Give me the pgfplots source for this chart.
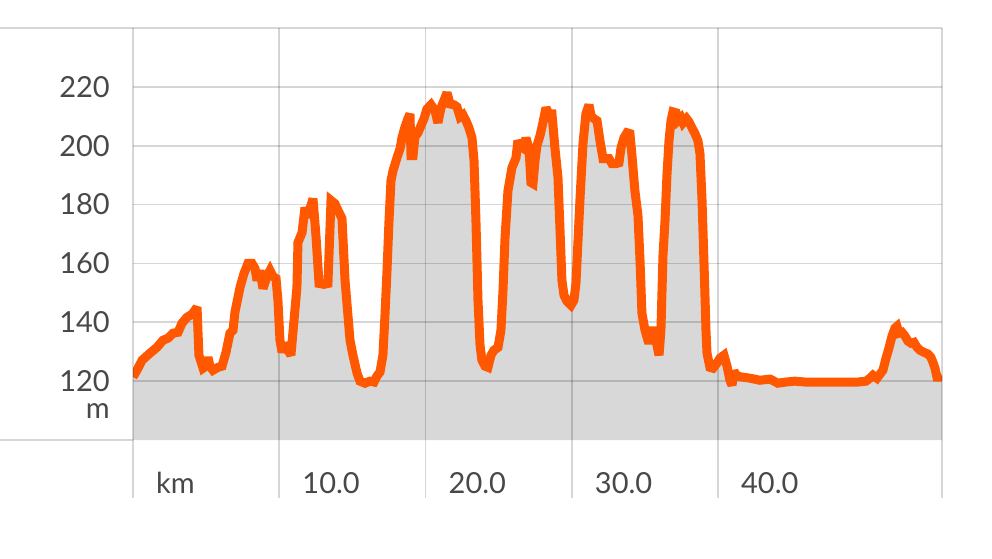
\documentclass[border=0pt]{standalone}
\usepackage{fontspec}
\setmainfont{Lato}
\usepackage{pgfplots}
\usepackage{pgfplotstable}
\pgfplotsset{compat=1.18}
\definecolor{lineorange}{RGB}{255,88,0}
\definecolor{areafill}{RGB}{216,216,216}
\definecolor{labelgray}{RGB}{72,72,72}
\begin{document}
\pgfplotstableread{
dist elev
0.00 121.4
0.27 123.7
0.62 127.1
1.16 129.5
1.64 131.5
2.05 133.9
2.39 134.6
2.74 136.3
3.08 136.6
3.35 139.7
3.69 141.7
4.03 142.7
4.38 145.1
4.44 137.3
4.51 128.8
4.79 124.4
4.99 125.1
5.13 128.1
5.26 125.1
5.47 123.7
5.81 124.7
6.09 125.1
6.36 129.8
6.63 136.3
6.84 137.3
6.97 143.4
7.32 151.9
7.59 156.6
7.86 160.0
8.14 160.0
8.34 158.3
8.48 154.2
8.68 157.6
8.89 151.5
9.16 155.6
9.37 157.6
9.57 155.6
9.78 154.9
9.91 147.5
10.05 133.9
10.19 129.8
10.39 132.9
10.60 130.5
10.80 128.8
11.01 140.7
11.21 151.9
11.28 167.1
11.56 170.5
11.76 179.0
11.97 175.6
12.10 178.6
12.31 182.0
12.51 169.5
12.72 153.2
13.06 152.9
13.33 153.2
13.54 181.4
13.81 180.3
14.02 178.0
14.29 175.3
14.50 154.2
14.63 146.4
14.84 133.9
15.04 128.8
15.32 122.7
15.52 120.0
15.86 119.3
16.21 120.0
16.48 119.7
16.68 121.7
16.89 123.1
17.09 128.8
17.23 142.4
17.37 157.6
17.50 173.9
17.64 188.1
17.78 191.5
18.05 195.9
18.26 199.0
18.39 202.7
18.60 206.4
18.80 209.2
18.94 210.8
19.01 196.6
19.15 196.6
19.28 203.1
19.49 204.4
19.69 206.8
19.90 209.2
20.10 212.5
20.38 213.9
20.65 211.9
20.85 207.8
21.06 212.9
21.26 215.3
21.47 218.0
21.68 214.2
21.95 213.9
22.15 213.2
22.36 209.8
22.56 210.5
22.77 208.5
22.97 206.1
23.18 202.7
23.32 194.9
23.45 174.6
23.59 147.5
23.73 132.2
23.86 127.1
24.07 125.1
24.27 124.7
24.48 128.8
24.68 130.5
24.96 131.5
25.16 137.3
25.30 150.8
25.44 168.8
25.64 184.7
25.91 192.5
26.19 195.9
26.32 201.7
26.53 199.7
26.74 199.0
26.87 202.7
27.08 199.0
27.21 187.5
27.35 187.1
27.49 194.9
27.62 200.0
27.83 203.4
28.03 207.8
28.24 212.9
28.44 210.8
28.65 210.8
28.85 199.3
29.06 189.2
29.20 171.2
29.33 154.2
29.47 149.2
29.68 147.1
29.95 145.8
30.15 147.5
30.29 153.2
30.43 167.8
30.56 181.4
30.77 200.7
30.97 210.8
31.18 213.9
31.32 210.2
31.52 209.2
31.73 208.5
31.93 201.7
32.14 195.6
32.34 195.6
32.55 195.6
32.75 193.9
33.03 193.9
33.23 194.2
33.37 199.3
33.57 202.7
33.78 204.4
33.98 204.1
34.12 196.6
34.32 184.7
34.53 176.3
34.67 161.0
34.80 143.1
35.01 137.3
35.21 133.9
35.35 133.9
35.56 138.3
35.76 133.9
35.97 128.8
36.10 137.3
36.24 162.7
36.38 174.6
36.51 189.8
36.65 201.7
36.79 208.5
36.92 211.5
37.13 211.2
37.26 208.5
37.47 209.5
37.61 207.8
37.85 209.2
38.02 208.1
38.22 206.1
38.43 204.1
38.63 201.7
38.77 197.3
38.91 181.4
39.04 161.0
39.18 137.3
39.25 129.5
39.45 124.7
39.66 124.4
39.93 126.1
40.14 127.8
40.41 128.8
40.62 125.1
40.82 120.3
40.96 118.6
41.09 123.4
41.30 121.7
41.64 121.4
42.19 121.0
42.87 120.3
43.56 120.7
44.10 119.3
44.65 119.7
45.26 120.0
45.95 119.7
46.63 119.7
47.66 119.7
48.68 119.7
49.57 119.7
50.12 120.0
50.39 121.0
50.60 122.0
50.87 121.0
51.08 122.4
51.28 123.7
51.49 127.8
51.69 131.2
51.90 135.3
52.10 138.0
52.24 138.6
52.38 136.3
52.58 136.6
52.79 135.3
52.99 133.6
53.20 132.9
53.40 133.2
53.61 131.5
53.81 130.5
54.09 129.8
54.36 129.2
54.56 128.1
54.70 126.4
54.84 124.4
54.97 121.4
55.18 121.4
55.32 121.7
}\elevtable
\begin{tikzpicture}
\useasboundingbox (0,0) rectangle (992pt,558pt);
\begin{axis}[
  at={(133pt,118pt)}, anchor=south west,
  scale only axis, width=809pt, height=412pt,
  xmin=0, xmax=55.32, ymin=100, ymax=240,
  axis line style={draw=none},
  major tick length=0pt,
  xtick={0,10,20,30,40},
  xticklabels={km,10.0,20.0,30.0,40.0},
  ytick={120,140,160,180,200,220},
  /pgf/number format/assume math mode=true,
  ticklabel style={font=\fontsize{29}{29}\selectfont, text=labelgray, inner sep=0pt},
  xticklabel style={anchor=base west, xshift=23pt, yshift=-53pt},
  yticklabel style={anchor=east, xshift=-23pt},
]
\addplot[draw=none, fill=areafill] table[x index=0, y index=1] {\elevtable} \closedcycle;
\pgfplotsinvokeforeach{10,20,30,40}{
  \draw[black, opacity=0.17, line width=1.8pt] (axis cs:#1,100) -- (axis cs:#1,240);
}
\pgfplotsinvokeforeach{120,140,160,180,200,220}{
  \draw[black, opacity=0.16, line width=1.8pt] (axis cs:0,#1) -- (axis cs:55.32,#1);
}
\addplot[lineorange, line width=9pt, line join=miter, miter limit=2.5, line cap=butt] table[x index=0, y index=1] {\elevtable};
\end{axis}
\begin{scope}[black, opacity=0.16, line width=1.8pt]
\draw (0pt,530pt) -- (942pt,530pt);
\draw (942pt,530pt) -- (942pt,60pt);
\draw (0pt,118pt) -- (133pt,118pt);
\draw (133pt,530pt) -- (133pt,60pt);
\draw (279.25pt,118pt) -- (279.25pt,60pt);
\draw (425.5pt,118pt) -- (425.5pt,60pt);
\draw (571.75pt,118pt) -- (571.75pt,60pt);
\draw (718pt,118pt) -- (718pt,60pt);
\end{scope}
\node[anchor=base east, inner sep=0pt, font=\fontsize{29}{29}\selectfont, text=labelgray] at (110pt,140pt) {m};
\end{tikzpicture}
\end{document}
